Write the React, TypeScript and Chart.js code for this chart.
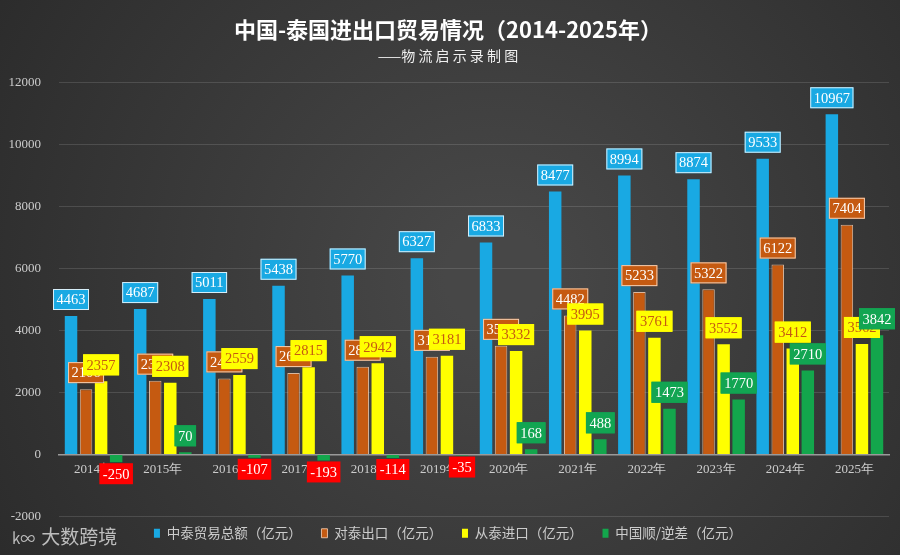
import React, { useEffect, useRef } from "react";
import { Chart, registerables } from "chart.js";

Chart.register(...registerables);

const categories = ["2014年", "2015年", "2016年", "2017年", "2018年", "2019年", "2020年", "2021年", "2022年", "2023年", "2024年", "2025年"];
const totalTrade = [4463, 4687, 5011, 5438, 5770, 6327, 6833, 8477, 8994, 8874, 9533, 10967];
const exportsToThailand = [2106, 2379, 2452, 2623, 2828, 3146, 3501, 4482, 5233, 5322, 6122, 7404];
const importsFromThailand = [2357, 2308, 2559, 2815, 2942, 3181, 3332, 3995, 3761, 3552, 3412, 3562];
const tradeBalance = [-250, 70, -107, -193, -114, -35, 168, 488, 1473, 1770, 2710, 3842];
const seriesNames = ["中泰贸易总额（亿元）", "对泰出口（亿元）", "从泰进口（亿元）", "中国顺/逆差（亿元）"];
const yMin = -2000;
const yMax = 12000;
const yStep = 2000;

const barColors = ["#19a9e3", "#c55a11", "#ffff00", "#13a64c"];
const labelStyles = [
  { bg: "#19a9e3", border: "#d8eef8", text: "#ffffff" },
  { bg: "#c55a11", border: "#f3cfb3", text: "#ffffff" },
  { bg: "#ffff00", border: "#ffff00", text: "#c55a11" },
  { bg: "#12a552", border: "#12a552", text: "#ffffff" },
];

const bgPlugin = {
  id: "bg",
  beforeDraw(chart: any) {
    const { ctx, width, height } = chart;
    ctx.save();
    const g = ctx.createRadialGradient(width * 0.55, height * 0.5, 50, width * 0.55, height * 0.5, width * 0.65);
    g.addColorStop(0, "#474747");
    g.addColorStop(1, "#2b2b2b");
    ctx.fillStyle = g;
    ctx.fillRect(0, 0, width, height);
    ctx.restore();
  },
};

const boxLabelPlugin = {
  id: "boxLabels",
  afterDatasetsDraw(chart: any) {
    const ctx = chart.ctx;
    chart.data.datasets.forEach((ds: any, di: number) => {
      const meta = chart.getDatasetMeta(di);
      const st = labelStyles[di];
      meta.data.forEach((el: any, i: number) => {
        const v = ds.data[i] as number;
        const neg = v < 0;
        const text = String(v);
        ctx.save();
        ctx.font = '14.5px "Liberation Serif", serif';
        const w = ctx.measureText(text).width + 7;
        const h = 21;
        const x = el.x - w / 2;
        const top = neg ? el.y + 1 : el.y - 6 - h;
        ctx.fillStyle = neg ? "#ff0000" : st.bg;
        ctx.fillRect(x, top, w, h);
        if (!neg) {
          ctx.strokeStyle = st.border;
          ctx.lineWidth = 1;
          ctx.strokeRect(x + 0.5, top + 0.5, w - 1, h - 1);
        }
        ctx.fillStyle = st.text;
        ctx.textAlign = "center";
        ctx.textBaseline = "middle";
        ctx.fillText(text, el.x, top + h / 2 + 1);
        ctx.restore();
      });
    });
  },
};

export default function App() {
  const ref = useRef<HTMLCanvasElement | null>(null);

  useEffect(() => {
    if (!ref.current) return;
    const seriesData = [totalTrade, exportsToThailand, importsFromThailand, tradeBalance];
    const chart = new Chart(ref.current, {
      type: "bar",
      data: {
        labels: categories,
        datasets: seriesData.map((d, i) => ({
          label: seriesNames[i],
          data: d,
          backgroundColor: barColors[i],
          borderColor: i === 1 ? "rgba(245,205,175,0.85)" : barColors[i],
          borderWidth: i === 1 ? 1 : 0,
          categoryPercentage: 0.87,
          barPercentage: 0.83,
        })),
      },
      options: {
        animation: false,
        responsive: true,
        maintainAspectRatio: false,
        layout: { padding: { left: 7, right: 11, top: 0, bottom: 5 } },
        plugins: {
          title: {
            display: true,
            text: "中国-泰国进出口贸易情况（2014-2025年）",
            color: "#ffffff",
            font: { family: '"Noto Sans CJK SC", sans-serif', size: 22, weight: "bold" },
            padding: { top: 16, bottom: 4 },
          },
          subtitle: {
            display: true,
            text: "——物 流 启 示 录 制 图",
            color: "#f0f0f0",
            font: { family: '"Noto Sans CJK SC", sans-serif', size: 14 },
            padding: { top: 1, bottom: 18 },
          },
          legend: {
            position: "bottom",
            labels: {
              color: "#cccccc",
              font: { family: '"Noto Sans CJK SC", sans-serif', size: 13.5 },
              boxWidth: 6,
              boxHeight: 9,
              padding: 10,
              generateLabels(chart: any) {
                const items = Chart.defaults.plugins.legend.labels.generateLabels(chart);
                return items.map((it: any, i: number) => ({
                  ...it,
                  text: i < items.length - 1 ? it.text + "\u3000 " : it.text,
                  fontColor: "#cccccc",
                }));
              },
            },
          },
          tooltip: { enabled: false },
        },
        scales: {
          x: {
            position: { y: 0 } as any,
            grid: { display: false, drawTicks: false },
            border: { color: "#9a9a9a", width: 1.5 },
            ticks: {
              color: "#cccccc",
              font: { family: '"Liberation Serif", serif', size: 13 },
              padding: 7,
            },
          },
          y: {
            min: yMin,
            max: yMax,
            grid: { color: "rgba(255,255,255,0.13)", drawTicks: false },
            border: { display: false },
            afterFit: (scale: any) => {
              scale.width = 52;
            },
            ticks: {
              stepSize: yStep,
              color: "#cccccc",
              font: { family: '"Liberation Serif", serif', size: 13 },
              padding: 18,
              callback: (v: any) => String(v),
            },
          },
        },
      },
      plugins: [bgPlugin, boxLabelPlugin],
    });
    return () => chart.destroy();
  }, []);

  return (
    <div style={{ position: "absolute", left: 0, top: 0, width: 900, height: 555 }}>
      <canvas ref={ref} />
      <div
        style={{
          position: "absolute",
          left: 12,
          top: 523,
          color: "#bdbdbd",
          fontFamily: '"Noto Sans CJK SC", sans-serif',
          fontSize: 19,
          lineHeight: "26px",
          pointerEvents: "none",
        }}
      >
        <span style={{ fontSize: 15, marginRight: 6 }}>k∞</span>大数跨境
      </div>
    </div>
  );
}
